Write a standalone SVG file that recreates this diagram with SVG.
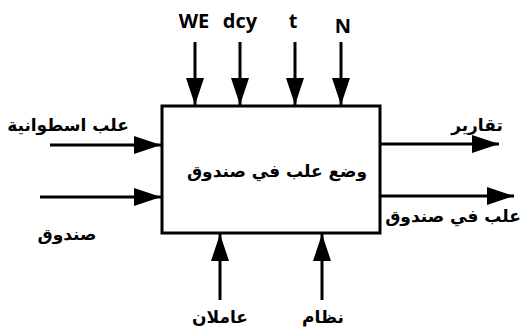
<svg xmlns="http://www.w3.org/2000/svg" width="523" height="334" viewBox="0 0 523 334">
<style>
.ln{stroke:#000;stroke-width:3;fill:none}
.lat{font-family:"Open Sans","Liberation Sans",sans-serif;font-weight:bold;font-size:20px;fill:#000}
.ar{font-family:"DejaVu Sans","Noto Sans",sans-serif;font-weight:bold;font-size:17px;fill:#000}
</style>
<defs>
<marker id="ah" markerWidth="9" markerHeight="6" refX="9" refY="3" orient="auto" markerUnits="strokeWidth">
<path d="M0,0 L9,3 L0,6 Z" fill="#000"/>
</marker>
</defs>
<rect x="0" y="0" width="523" height="334" fill="#fff"/>
<g id="connectors">
<line class="ln" x1="195" y1="42" x2="195" y2="105" marker-end="url(#ah)"/>
<line class="ln" x1="240" y1="42" x2="240" y2="105" marker-end="url(#ah)"/>
<line class="ln" x1="295" y1="42" x2="295" y2="105" marker-end="url(#ah)"/>
<line class="ln" x1="341" y1="42" x2="341" y2="105" marker-end="url(#ah)"/>
<line class="ln" x1="50" y1="145" x2="161" y2="145" marker-end="url(#ah)"/>
<line class="ln" x1="40" y1="197" x2="161" y2="197" marker-end="url(#ah)"/>
<line class="ln" x1="381" y1="144" x2="499" y2="144" marker-end="url(#ah)"/>
<line class="ln" x1="381" y1="196" x2="514" y2="196" marker-end="url(#ah)"/>
<line class="ln" x1="220" y1="300" x2="220" y2="234" marker-end="url(#ah)"/>
<line class="ln" x1="322" y1="300" x2="322" y2="234" marker-end="url(#ah)"/>
</g>
<g id="process">
<rect class="ln" x="162" y="106" width="218" height="127"/>
<text class="ar" x="277" y="177" text-anchor="middle" direction="rtl">وضع علب في صندوق</text>
</g>
<g id="controls">
<text class="lat" x="194" y="28" text-anchor="middle">WE</text>
<text class="lat" x="240" y="28" text-anchor="middle">dcy</text>
<text class="lat" x="293" y="28" text-anchor="middle">t</text>
<text class="lat" x="343" y="33" text-anchor="middle">N</text>
</g>
<g id="inputs">
<text class="ar" x="68" y="131" text-anchor="middle" direction="rtl">علب اسطوانية</text>
<text class="ar" x="67" y="240" text-anchor="middle" direction="rtl">صندوق</text>
</g>
<g id="outputs">
<text class="ar" x="477" y="131" text-anchor="middle" direction="rtl">تقارير</text>
<text class="ar" x="453" y="222" text-anchor="middle" direction="rtl">علب في صندوق</text>
</g>
<g id="mechanisms">
<text class="ar" x="220" y="323" text-anchor="middle" direction="rtl">عاملان</text>
<text class="ar" x="323" y="323" text-anchor="middle" direction="rtl">نظام</text>
</g>
</svg>
